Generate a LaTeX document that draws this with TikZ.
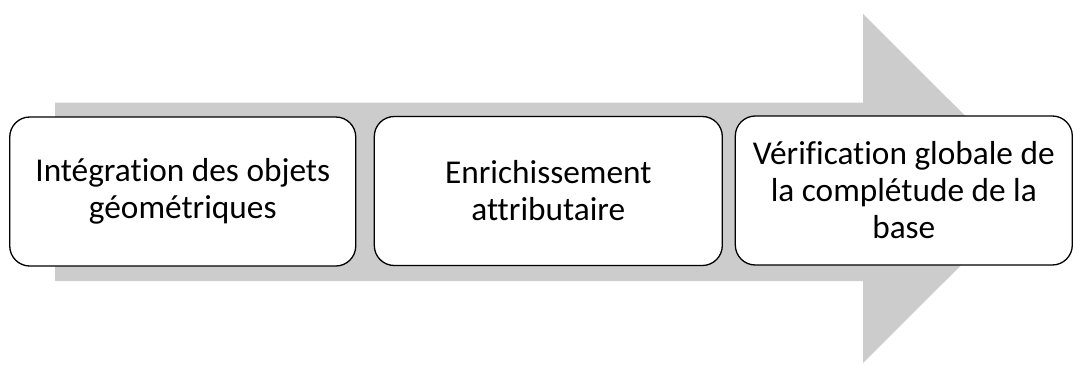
\documentclass[tikz,border=0pt]{standalone}
\usepackage{fontspec}
\setmainfont{Carlito}[Ligatures={TeX,NoCommon}]
\begin{document}
\begin{tikzpicture}[x=1pt,y=-1pt,
  box/.style={draw=black,line width=1.3pt,fill=white,rounded corners=20pt,
    minimum height=149pt,align=center,font=\fontsize{33.3}{37}\selectfont,inner sep=0pt},
  bigarrow/.style={fill=black!20,draw=none}]
\useasboundingbox (0,0) rectangle (1073,365);
\clip (0,0) rectangle (1073,365);
\fill[bigarrow] (55,102.5) -- (863,102.5) -- (863,14) -- (1038,188.5) -- (863,363) -- (863,281) -- (55,281) -- cycle;
\node[box,minimum width=346pt] (b1) at (182.75,191.5) {Intégration des objets\\géométriques};
\node[box,minimum width=348pt] (b2) at (548.3,191) {Enrichissement\\attributaire};
\node[box,minimum width=337pt] (b3) at (903.8,190.5) {Vérification globale de\\la complétude de la\\base};
\end{tikzpicture}
\end{document}
